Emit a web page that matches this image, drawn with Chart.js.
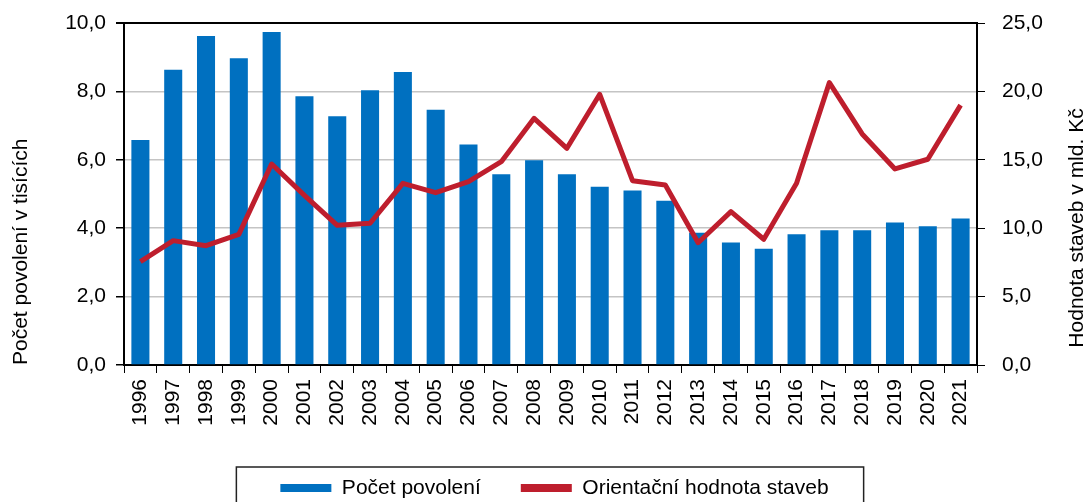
<!DOCTYPE html>
<html>
<head>
<meta charset="utf-8">
<script src="https://cdn.jsdelivr.net/npm/chart.js@4.4.1/dist/chart.umd.min.js"></script>
<style>
  html, body { margin: 0; padding: 0; background: #fff; }
  #wrap { width: 1087px; height: 502px; }
</style>
</head>
<body>
<div id="wrap"><canvas id="permitsChart"></canvas></div>
<script>
const years = ['1996','1997','1998','1999','2000','2001','2002','2003','2004','2005','2006','2007','2008',
               '2009','2010','2011','2012','2013','2014','2015','2016','2017','2018','2019','2020','2021'];
// pocet povoleni v tisicich
const permits = [6.58, 8.63, 9.62, 8.97, 9.74, 7.86, 7.27, 8.03, 8.57, 7.46, 6.45, 5.58, 5.99,
                 5.58, 5.21, 5.10, 4.80, 3.87, 3.58, 3.40, 3.82, 3.94, 3.94, 4.17, 4.06, 4.28];
// orientacni hodnota staveb v mld. Kc
const buildValue = [7.55, 9.09, 8.72, 9.55, 14.69, 12.4, 10.21, 10.36, 13.28, 12.6, 13.4, 14.86, 18.03,
                    15.84, 19.79, 13.47, 13.16, 8.94, 11.21, 9.19, 13.28, 20.64, 16.89, 14.33, 15.04, 19.0];
const leftTicks = [0, 2, 4, 6, 8, 10];
const rightTicks = [0, 5, 10, 15, 20, 25];

const FONT = "'Liberation Sans', Arial, sans-serif";
const fmt = v => v.toFixed(1).replace('.', ',');

const extras = {
    id: 'extras',
    afterDraw(chart) {
        const ctx = chart.ctx;
        const boxes = chart.legend.legendHitBoxes;
        const first = boxes[0], last = boxes[boxes.length - 1];
        const x1 = first.left - 44, x2 = last.left + last.width + 35;
        const y1 = first.top + first.height / 2 - 21;
        ctx.save();
        ctx.strokeStyle = '#222';
        ctx.lineWidth = 1.5;
        ctx.strokeRect(x1, y1, x2 - x1, chart.height - y1 + 10);
        // right axis title, reads bottom to top
        const y2 = chart.scales.y2;
        ctx.translate(chart.width - 10, (y2.top + y2.bottom) / 2 + 34);
        ctx.rotate(-Math.PI / 2);
        ctx.font = '21px ' + FONT;
        ctx.fillStyle = '#000';
        ctx.textAlign = 'center';
        ctx.textBaseline = 'middle';
        ctx.fillText('Hodnota staveb v mld. Kč', 0, 0);
        ctx.restore();
    }
};

const chart = new Chart('permitsChart', {
    type: 'bar',
    data: {
        labels: years,
        datasets: [{
            label: 'Počet povolení',
            data: permits,
            backgroundColor: '#0070C0',
            barPercentage: 0.55,
            categoryPercentage: 1,
            yAxisID: 'y',
            order: 2
        }, {
            type: 'line',
            label: 'Orientační hodnota staveb',
            data: buildValue,
            borderColor: '#BE1E2D',
            backgroundColor: '#BE1E2D',
            borderWidth: 5,
            pointRadius: 0,
            tension: 0,
            borderJoinStyle: 'round',
            yAxisID: 'y2',
            order: 1
        }]
    },
    options: {
        responsive: true,
        maintainAspectRatio: false,
        animation: false,
        layout: { padding: { top: 23, left: 22, right: 0, bottom: -6.5 } },
        plugins: {
            tooltip: { enabled: false },
            legend: {
                position: 'bottom',
                labels: {
                    font: { family: FONT, size: 21 },
                    color: '#000',
                    boxWidth: 51,
                    boxHeight: 8,
                    padding: 40,
                    sort: (a, b) => a.datasetIndex - b.datasetIndex,
                    generateLabels(c) {
                        const items = Chart.defaults.plugins.legend.labels.generateLabels(c);
                        items.forEach(it => {
                            const ds = c.data.datasets[it.datasetIndex];
                            it.fillStyle = ds.backgroundColor;
                            it.lineWidth = 0;
                        });
                        return items;
                    }
                }
            }
        },
        scales: {
            x: {
                offset: true,
                grid: { offset: true, drawOnChartArea: false, tickColor: '#000', tickLength: 8 },
                border: { color: '#000', width: 2 },
                ticks: {
                    autoSkip: false, minRotation: 90, maxRotation: 90, padding: 6,
                    color: '#000', font: { family: FONT, size: 21 }
                },
                afterFit(s) { s.height = 72.5; }
            },
            y: {
                position: 'left',
                min: 0, max: 10,
                afterBuildTicks(s) { s.ticks = leftTicks.map(v => ({ value: v })); },
                grid: {
                    color: c => c.tick && c.tick.value === 10 ? '#000' : '#c4c4c4',
                    lineWidth: c => c.tick && c.tick.value === 10 ? 2 : 1.5,
                    tickColor: '#000', tickLength: 8
                },
                border: { color: '#000', width: 2 },
                ticks: {
                    padding: 10, color: '#000', font: { family: FONT, size: 21 },
                    callback: v => fmt(v)
                },
                title: {
                    display: true, text: 'Počet povolení v tisících', align: 'start',
                    color: '#000', font: { family: FONT, size: 21 },
                    padding: { top: -13, bottom: 0 }
                },
                afterFit(s) { s.width = 102; s.paddingTop = 0; s.paddingBottom = 0; }
            },
            y2: {
                position: 'right',
                min: 0, max: 25,
                afterBuildTicks(s) { s.ticks = rightTicks.map(v => ({ value: v })); },
                grid: { drawOnChartArea: false, tickColor: '#000', tickLength: 8 },
                border: { color: '#000', width: 2 },
                ticks: {
                    padding: 17, color: '#000', font: { family: FONT, size: 21 },
                    callback: v => fmt(v)
                },
                afterFit(s) { s.width = 110; s.paddingTop = 0; s.paddingBottom = 0; }
            }
        }
    },
    plugins: [extras]
});
</script>
</body>
</html>
